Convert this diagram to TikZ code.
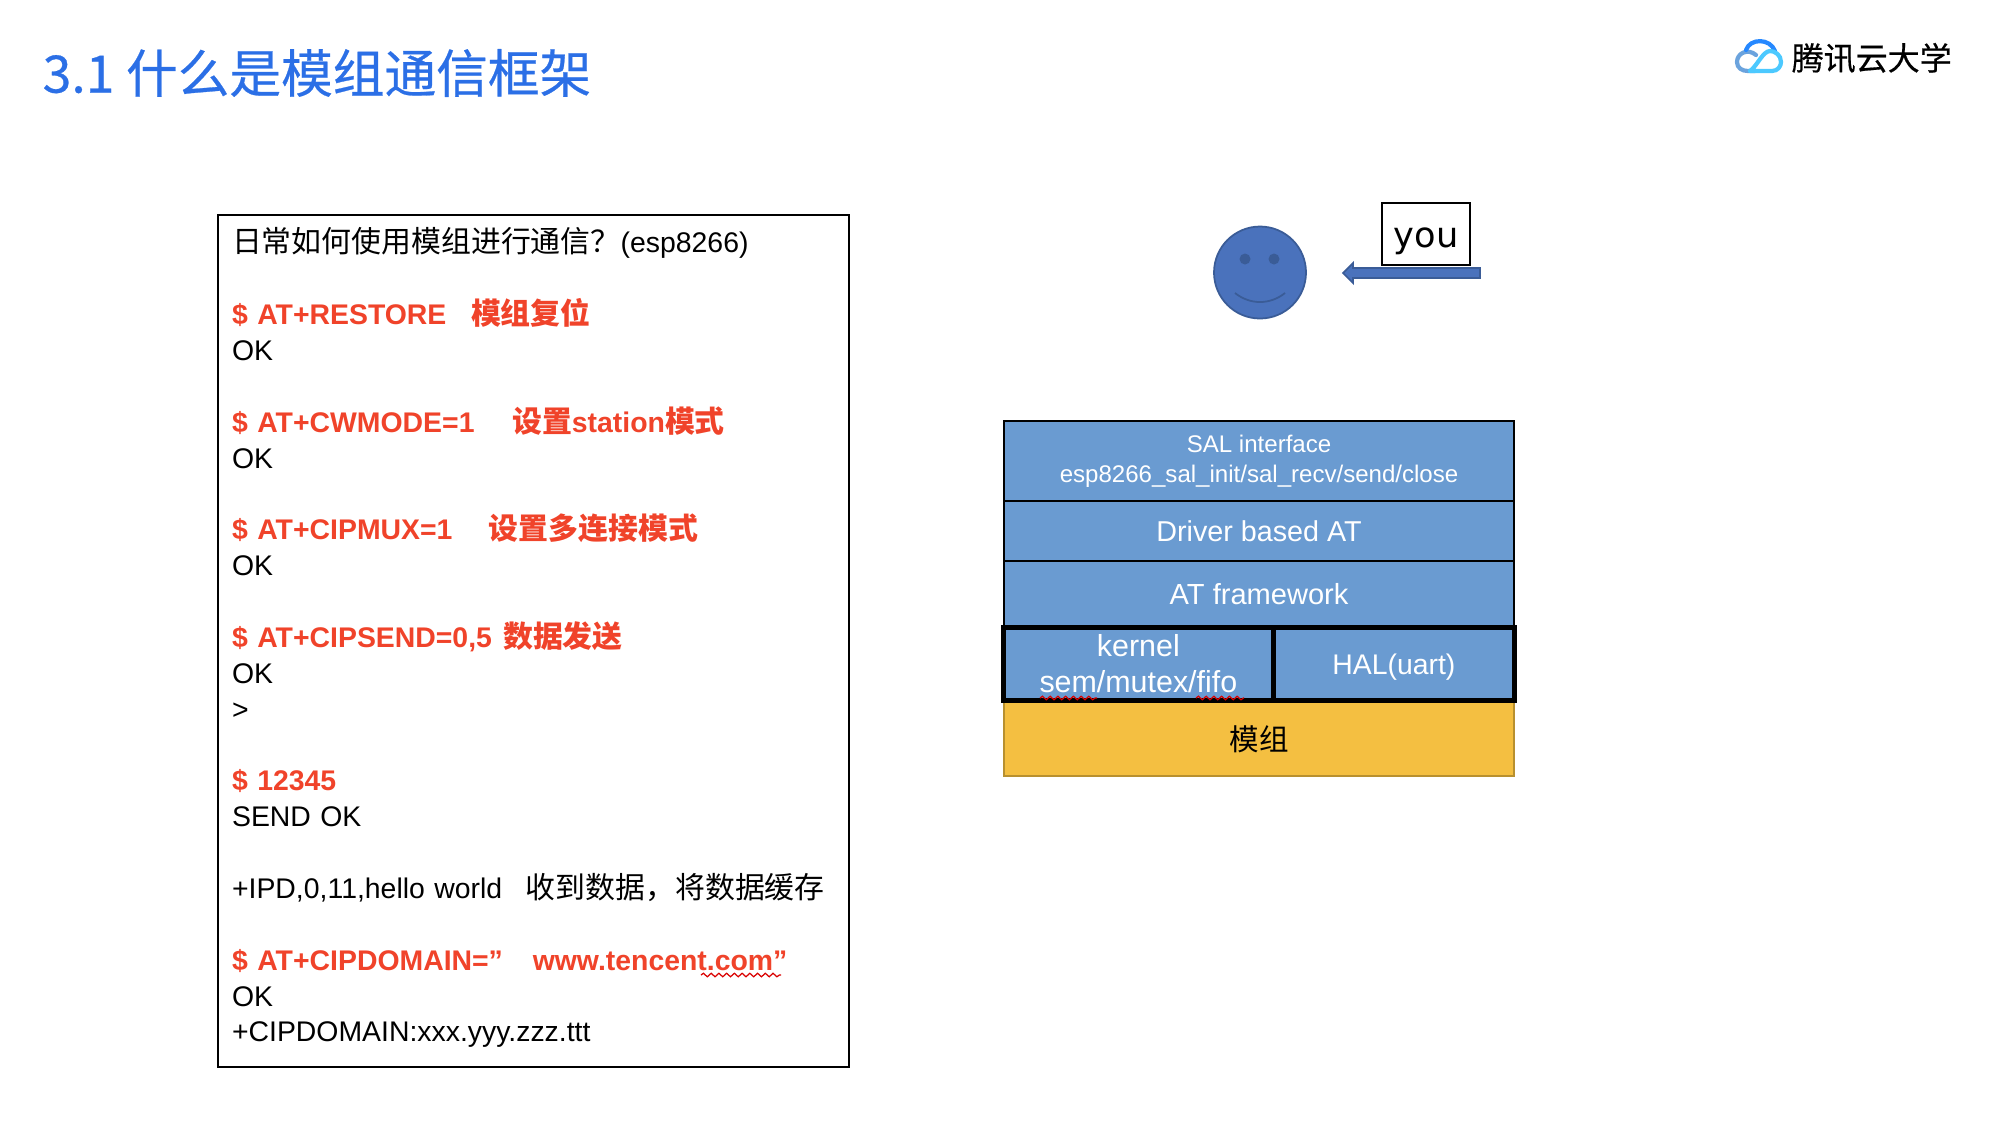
\documentclass[tikz,border=0pt]{standalone}
\usepackage{fontspec}
\setmainfont{Liberation Sans}[Scale=0.95]
\newfontfamily\cjk{Noto Sans CJK SC}
\newfontfamily\cjkheavy{Noto Sans CJK SC}[FakeBold=0.5]
\newfontfamily\youfont{DejaVu Sans}
\usetikzlibrary{decorations.pathmorphing}
\definecolor{titleblue}{HTML}{2B6FE6}
\definecolor{atred}{HTML}{F0432A}
\definecolor{layerblue}{HTML}{6A9BD1}
\definecolor{moduleyellow}{HTML}{F4BF41}
\definecolor{moduleedge}{HTML}{B8902F}
\definecolor{faceblue}{HTML}{4A72BC}
\definecolor{faceedge}{HTML}{3A5C97}
\newcommand{\zh}[1]{{\cjk #1}}
\newcommand{\atcmd}[1]{\textcolor{atred}{\bfseries #1}}
\newcommand{\fsize}[1]{\fontsize{#1}{10.2}\selectfont}
\tikzset{
  layer/.style={draw=black,line width=0.6pt,fill=layerblue,text=white,align=center,
    anchor=north west,inner sep=0pt,minimum width=\wStack*0.01cm},
  thickcell/.style={layer,line width=1.3pt},
  wavy/.style={draw=red!85!black,line width=0.35pt,decorate,
    decoration={snake,amplitude=0.5pt,segment length=2.2pt}},
  cloudline/.style={line width=1.2pt,line cap=round,line join=round},
}
\begin{document}
\begin{tikzpicture}[x=0.01cm,y=-0.01cm]
  \pgfmathsetmacro{\xStack}{1003}\pgfmathsetmacro{\wStack}{510}
  \pgfmathsetmacro{\xCut}{1271}
  \useasboundingbox (0,0) rectangle (2000,1126);

  % ---- title and logo ----------------------------------------------------
  \node[anchor=west,inner sep=0pt,text=titleblue,font=\fontsize{14.7}{16}\selectfont] (title) at (42,73)
        {\cjkheavy 3.1 什么是模组通信框架};
  \node[anchor=west,inner sep=0pt,font=\fontsize{9.1}{11}\selectfont] (logo) at (1791,58)
        {\cjkheavy 腾讯云大学};
  \draw[cloudline,cyan!60!blue!60] (1756,55) .. controls (1748,48) and (1737,53) .. (1737,62)
        .. controls (1737,68) and (1742,71) .. (1748,71) -- (1755,71);
  \draw[cloudline,blue!55!cyan!85] (1746,50) .. controls (1750,38) and (1770,38) .. (1775,51);
  \draw[cloudline,blue!30!cyan!70] (1750,71) -- (1772,71) .. controls (1778,71) and (1781,66) .. (1781,62)
        .. controls (1781,55) and (1775,51) .. (1770,51) .. controls (1763,51) and (1757,66) .. (1750,71);

  % ---- AT command listing ------------------------------------------------
  \node[draw=black,line width=0.6pt,anchor=north west,inner xsep=0.14cm,inner ysep=0pt,
        text width=6.03cm,minimum height=8.51cm,align=left,font=\fsize{8.5}] (listing) at (217,214)
        {\zh{日常如何使用模组进行通信？}(esp8266)\\[10.2pt]
         \atcmd{\$ AT+RESTORE\hspace{7pt}\zh{模组复位}}\\
         OK\\[10.2pt]
         \atcmd{\$ AT+CWMODE=1\hspace{10.7pt}\zh{设置}station\zh{模式}}\\
         OK\\[10.2pt]
         \atcmd{\$ AT+CIPMUX=1\hspace{10.3pt}\zh{设置多连接模式}}\\
         OK\\[10.2pt]
         \atcmd{\$ AT+CIPSEND=0,5\hspace{3.2pt}\zh{数据发送}}\\
         OK\\
         >\\[10.2pt]
         \atcmd{\$ 12345}\\
         SEND OK\\[10.2pt]
         +IPD,0,11,hello world\hspace{4pt} \zh{收到数据，将数据缓存}\\[10.2pt]
         \atcmd{\$ AT+CIPDOMAIN=”\hspace{8.5pt}www.tencent.com”}\\
         OK\\
         +CIPDOMAIN:xxx.yyy.zzz.ttt\rule[-3.4pt]{0pt}{5pt}};
  \draw[wavy] (701,975) -- (781,975);

  % ---- smiley and arrow --------------------------------------------------
  \fill[faceblue,draw=faceedge,line width=0.5pt] (1260,272.5) circle (46);
  \fill[faceedge] (1245,259) circle (5.5) (1274,259) circle (5.5);
  \draw[faceedge,line width=0.5pt] (1235,293) .. controls (1250,305) and (1270,305) .. (1285,293);
  \node[draw=black,line width=0.6pt,anchor=north west,inner sep=0pt,minimum width=0.88cm,
        minimum height=0.62cm,font=\youfont\fontsize{10}{12}\selectfont] (you) at (1381,202)
        {\rule{0pt}{9.8pt}you};
  \fill[faceblue,draw=faceedge,line width=0.5pt] (1480,268) -- (1353,268) -- (1353,263) -- (1343,273)
        -- (1353,283) -- (1353,278) -- (1480,278) -- cycle;

  % ---- layer stack -------------------------------------------------------
  \node[layer,minimum height=0.80cm,font=\fontsize{7.2}{8.4}\selectfont] (sal) at (\xStack,420)
        {SAL interface\\esp8266\_sal\_init/sal\_recv/send/close};
  \node[layer,minimum height=0.60cm,font=\fontsize{8.6}{10}\selectfont] (driver) at (\xStack,500) {Driver based AT};
  \node[layer,minimum height=0.66cm,font=\fontsize{8.7}{10}\selectfont] (framework) at (\xStack,560) {AT framework};
  \node[layer,draw=moduleedge,fill=moduleyellow,text=black,minimum height=0.74cm,
        font=\fontsize{8.4}{10}\selectfont] (module) at (\xStack,701) {\zh{模组}};
  \node[thickcell,minimum width=2.70cm,minimum height=0.73cm,font=\fontsize{9.1}{10.2}\selectfont] (kernel) at (1001,625)
        {kernel\\sem/mutex/fifo};
  \node[thickcell,minimum width=2.41cm,minimum height=0.73cm,font=\fontsize{8.5}{10}\selectfont] (hal) at (\xCut,625)
        {\rule{0pt}{8pt}HAL(uart)};
  \draw[wavy] (1040,698) -- (1097,698);
  \draw[wavy] (1196,698) -- (1244,698);
\end{tikzpicture}
\end{document}
